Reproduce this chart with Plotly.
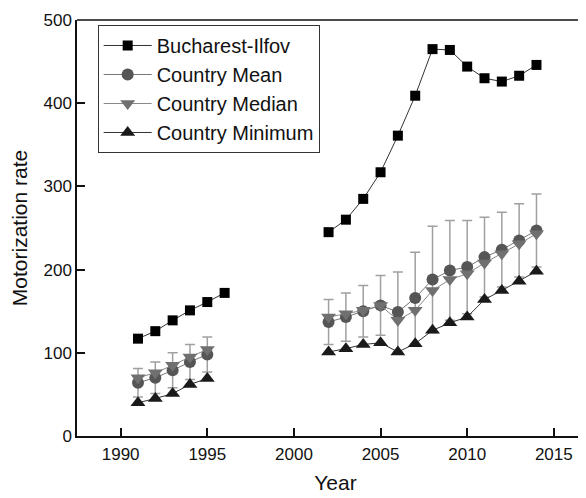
import plotly.graph_objects as go

years = list(range(1991, 2015))
N = None
bucharest = [117, 126, 139, 151, 161, 172, N, N, N, N, N,
             245, 260, 285, 317, 361, 409, 465, 464, 444, 430, 426, 433, 446]
mean_vals = [64, 70, 79, 89, 98, N, N, N, N, N, N,
             137, 143, 150, 157, 149, 166, 188, 199, 203, 215, 224, 235, 247]
mean_err = [17, 19, 21, 21, 21, N, N, N, N, N, N,
            27, 29, 31, 36, 48, 55, 64, 60, 56, 48, 45, 44, 44]
median_vals = [70, 76, 85, 95, 104, N, N, N, N, N, N,
               143, 147, 151, 157, 139, 151, 175, 188, 195, 208, 219, 231, 243]
min_vals = [40, 45, 51, 62, 69, N, N, N, N, N, N,
            101, 105, 110, 112, 101, 111, 127, 136, 143, 164, 175, 186, 198]

font = "Liberation Sans, Arial, sans-serif"
fig = go.Figure()
fig.add_trace(go.Scatter(
    x=years, y=bucharest, name="Bucharest-Ilfov", mode="lines+markers",
    line=dict(color="#333333", width=1),
    marker=dict(symbol="square", size=10, color="#000000")))
fig.add_trace(go.Scatter(
    x=years, y=mean_vals, name="Country Mean", mode="lines+markers",
    line=dict(color="#777777", width=1),
    marker=dict(symbol="circle", size=12, color="#555555"),
    error_y=dict(type="data", array=mean_err, color="#a0a0a0", thickness=1.5, width=5)))
fig.add_trace(go.Scatter(
    x=years, y=median_vals, name="Country Median", mode="lines+markers",
    line=dict(color="#888888", width=1),
    marker=dict(symbol="triangle-down", size=13, color="#707070")))
fig.add_trace(go.Scatter(
    x=years, y=min_vals, name="Country Minimum", mode="lines+markers",
    line=dict(color="#333333", width=1),
    marker=dict(symbol="triangle-up", size=13, color="#1a1a1a")))

fig.update_layout(
    width=586, height=498,
    margin=dict(l=69, r=0, t=12, b=70),
    paper_bgcolor="white", plot_bgcolor="white",
    font=dict(family=font, color="#111111"),
    showlegend=True,
    legend=dict(x=0.04, y=0.988, xanchor="left", yanchor="top",
                bordercolor="#333333", borderwidth=1, bgcolor="white",
                font=dict(size=20, family=font, color="#111111"),
                itemwidth=48, tracegroupgap=0),
    xaxis=dict(range=[1987.48, 2017.32], tickvals=[1990, 1995, 2000, 2005, 2010, 2015],
               ticks="inside", ticklen=8, tickwidth=1.5, tickcolor="#111111",
               showline=True, linecolor="#111111", linewidth=1.5,
               showgrid=False, zeroline=False, ticklabelstandoff=2,
               tickfont=dict(size=17, family=font),
               title=dict(text="Year", font=dict(size=21, family=font), standoff=12)),
    yaxis=dict(range=[0, 500], tickvals=[0, 100, 200, 300, 400, 500],
               ticks="inside", ticklen=8, tickwidth=1.5, tickcolor="#111111",
               showline=True, linecolor="#111111", linewidth=1.5,
               showgrid=False, zeroline=False,
               tickfont=dict(size=17, family=font),
               title=dict(text="Motorization rate", font=dict(size=21, family=font), standoff=10)),
    shapes=[dict(type="line", xref="paper", yref="paper", x0=0, x1=1, y0=1, y1=1,
                 line=dict(color="#111111", width=1.5))],
)
fig.write_html("out.html")
